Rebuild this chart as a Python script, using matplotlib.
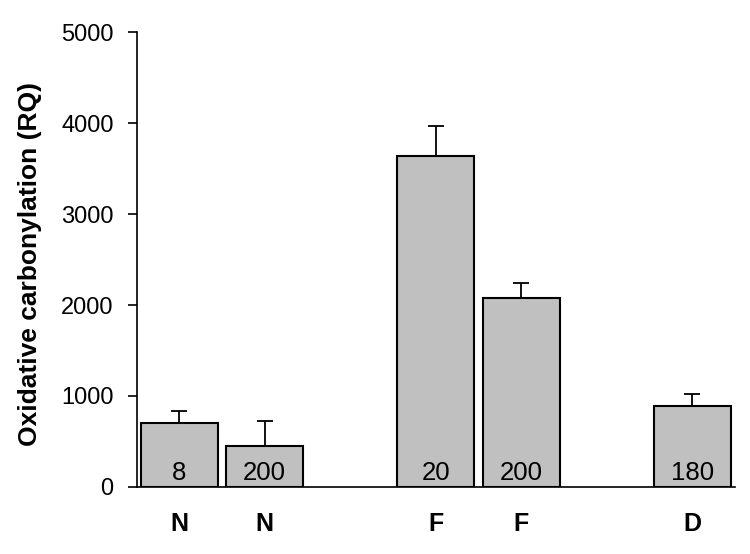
import matplotlib
matplotlib.use("Agg")
import matplotlib.pyplot as plt

# values
positions = [0, 1, 3, 4, 6]
groups = ["N", "N", "F", "F", "D"]
counts = ["8", "200", "20", "200", "180"]
means = [700, 450, 3635, 2080, 885]
errors = [132, 275, 330, 160, 132]
yticks = [0, 1000, 2000, 3000, 4000, 5000]

plt.rcParams.update({
    "font.family": ["Liberation Sans", "DejaVu Sans"],
    "font.size": 16,
})

fig = plt.figure(figsize=(7.5, 5.54), dpi=100)
ax = fig.add_axes([0.183, 0.121, 0.797, 0.821])

ax.bar(positions, means, width=0.9, color="#c0c0c0", edgecolor="black",
       linewidth=1.5, zorder=2)
ax.errorbar(positions, means, yerr=[[0] * len(errors), errors], fmt="none",
            ecolor="black", elinewidth=1.3, capsize=5.5, capthick=1.3, zorder=1)

for x, c in zip(positions, counts):
    ax.text(x, 77, c, ha="center", va="baseline", fontsize=18.5, zorder=3)

ax.set_xlim(-0.49, 6.5)
ax.set_ylim(0, 5000)
ax.set_yticks(yticks)
ax.set_yticklabels([str(v) for v in yticks], fontsize=17)
ax.set_xticks(positions)
ax.set_xticklabels(groups, fontweight="bold", fontsize=18)
ax.tick_params(axis="x", length=0, pad=18)
ax.tick_params(axis="y", direction="out", length=6.5, width=1.2, pad=10.5)
ax.set_ylabel("Oxidative carbonylation (RQ)", fontweight="bold", fontsize=19)
ax.yaxis.set_label_coords(-0.16, 0.49)

ax.spines[["top", "right"]].set_visible(False)
ax.spines["left"].set_linewidth(1.2)
ax.spines["bottom"].set_linewidth(1.2)

fig.savefig("out.png", dpi=100)
